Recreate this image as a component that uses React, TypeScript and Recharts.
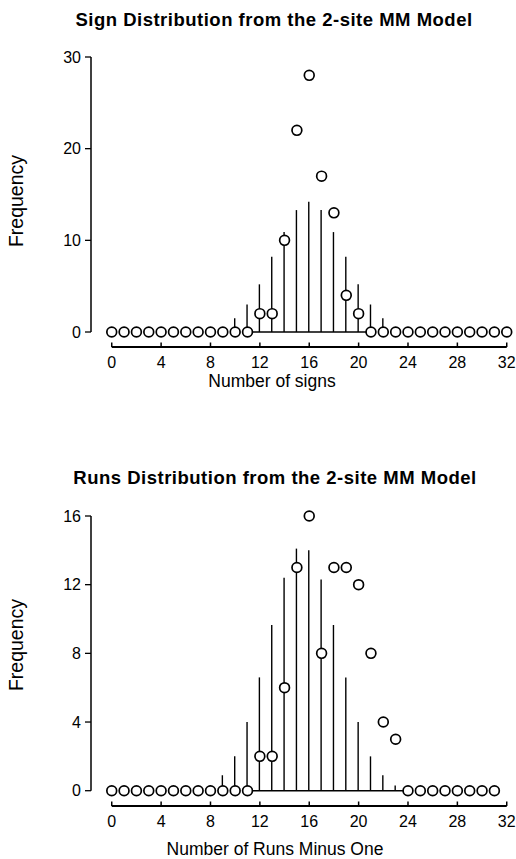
import { ComposedChart, Bar, Line, XAxis, YAxis, ReferenceLine } from 'recharts';

const FONT = '"Liberation Sans", Arial, Helvetica, sans-serif';

// top panel: number of signs
const signBins = [0, 1, 2, 3, 4, 5, 6, 7, 8, 9, 10, 11, 12, 13, 14, 15, 16, 17, 18, 19, 20, 21, 22, 23, 24, 25, 26, 27, 28, 29, 30, 31, 32];
const signCounts = [0, 0, 0, 0, 0, 0, 0, 0, 0, 0, 0, 0, 2, 2, 10, 22, 28, 17, 13, 4, 2, 0, 0, 0, 0, 0, 0, 0, 0, 0, 0, 0, 0];
const signRangeBins = [10, 11, 12, 13, 14, 15, 16, 17, 18, 19, 20, 21, 22];
const signRangeTops = [1.5, 3, 5.2, 8.2, 10.9, 13.3, 14.2, 13.3, 10.9, 8.2, 5.2, 3, 1.5];
const signBaseline = [11, 21];
const signYTicks = [0, 10, 20, 30];

// bottom panel: number of runs minus one
const runsBins = [0, 1, 2, 3, 4, 5, 6, 7, 8, 9, 10, 11, 12, 13, 14, 15, 16, 17, 18, 19, 20, 21, 22, 23, 24, 25, 26, 27, 28, 29, 30, 31];
const runsCounts = [0, 0, 0, 0, 0, 0, 0, 0, 0, 0, 0, 0, 2, 2, 6, 13, 16, 8, 13, 13, 12, 8, 4, 3, 0, 0, 0, 0, 0, 0, 0, 0];
const runsRangeBins = [8, 9, 10, 11, 12, 13, 14, 15, 16, 17, 18, 19, 20, 21, 22, 23];
const runsRangeTops = [0.3, 0.9, 2, 4, 6.6, 9.65, 12.4, 14.1, 14, 12.3, 9.65, 6.6, 4, 2, 0.9, 0.3];
const runsBaseline = [11, 24];
const runsYTicks = [0, 4, 8, 12, 16];

const xTicks = [0, 4, 8, 12, 16, 20, 24, 28, 32];

const X_MIN = -1.68;
const X_MAX = 32.6;
const PX_PER_X = 12.344;

function buildRows(bins: number[], counts: number[], rangeBins: number[], rangeTops: number[], baseline: number[]) {
  return bins.map((x, i) => {
    const r = rangeBins.indexOf(x);
    return {
      x,
      freq: counts[i],
      range: r >= 0 ? rangeTops[r] : null,
      base: x >= baseline[0] && x <= baseline[1] ? 0 : null,
    };
  });
}

const signRows = buildRows(signBins, signCounts, signRangeBins, signRangeTops, signBaseline);
const runsRows = buildRows(runsBins, runsCounts, runsRangeBins, runsRangeTops, runsBaseline);

const TICK_GAP = 9.5;

function XTick(props: any) {
  const { x, y, payload } = props;
  return (
    <g>
      <line x1={x} x2={x} y1={y - TICK_GAP} y2={y - TICK_GAP - 4.5} stroke="#000" strokeWidth={1.5} />
      <text x={x} y={y} dy="0.71em" textAnchor="middle" fontSize={16} fontFamily={FONT} fill="#000">
        {payload.value}
      </text>
    </g>
  );
}

function Panel({ rows, yMin, yMax, yTicks, top, height, marginTop, marginBottom }: any) {
  const plotW = (X_MAX - X_MIN) * PX_PER_X;
  const right = 516 - 91 - plotW;
  return (
    <div style={{ position: 'absolute', left: 0, top, width: 516, height }}>
      <ComposedChart
        width={516}
        height={height}
        data={rows}
        margin={{ top: marginTop, right, bottom: marginBottom, left: 0 }}
      >
        <XAxis
          type="number"
          dataKey="x"
          domain={[X_MIN, X_MAX]}
          ticks={xTicks}
          interval={0}
          axisLine={false}
          tickLine={false}
          tickSize={0}
          tickMargin={TICK_GAP}
          tick={<XTick />}
          height={30}
        />
        <YAxis
          type="number"
          domain={[yMin, yMax]}
          ticks={yTicks}
          interval={0}
          axisLine={false}
          tickSize={6}
          tickMargin={4}
          tickLine={{ stroke: '#000', strokeWidth: 1.3 }}
          tick={{ fontSize: 16, fill: '#000', fontFamily: FONT }}
          width={91}
        />
        <ReferenceLine
          segment={[{ x: 0, y: yMin }, { x: 32, y: yMin }]}
          stroke="#000"
          strokeWidth={2}
          ifOverflow="visible"
        />
        <ReferenceLine
          segment={[{ x: X_MIN, y: 0 }, { x: X_MIN, y: yMax }]}
          stroke="#000"
          strokeWidth={1.5}
          ifOverflow="visible"
        />
        <Bar dataKey="range" barSize={1.4} fill="#000" isAnimationActive={false} />
        <Line
          dataKey="base"
          stroke="#000"
          strokeWidth={1.4}
          dot={false}
          connectNulls={false}
          isAnimationActive={false}
        />
        <Line
          dataKey="freq"
          stroke="none"
          dot={{ r: 4.9, fill: '#fff', stroke: '#000', strokeWidth: 1.7 }}
          isAnimationActive={false}
        />
      </ComposedChart>
    </div>
  );
}

const titleStyle: any = {
  position: 'absolute',
  transform: 'translate(-50%, -50%)',
  whiteSpace: 'nowrap',
  fontFamily: FONT,
  fontWeight: 'bold',
  fontSize: 18.5,
  letterSpacing: 0.5,
  lineHeight: 1,
};

const labelStyle: any = {
  position: 'absolute',
  whiteSpace: 'nowrap',
  fontFamily: FONT,
  fontSize: 17.5,
  lineHeight: 1,
};

export default function App() {
  return (
    <div style={{ position: 'absolute', left: 0, top: 0, width: 516, height: 859, background: '#fff', overflow: 'hidden' }}>
      <div style={{ ...titleStyle, left: 274, top: 20 }}>Sign Distribution from the 2-site MM Model</div>
      <Panel rows={signRows} yMin={-1.636} yMax={30} yTicks={signYTicks} top={0} height={430} marginTop={57} marginBottom={53} />
      <div style={{ ...labelStyle, left: 16.5, top: 201, fontSize: 19.5, transform: 'translate(-50%, -50%) rotate(-90deg)' }}>Frequency</div>
      <div style={{ ...labelStyle, left: 272, top: 382, transform: 'translate(-50%, -50%)' }}>Number of signs</div>

      <div style={{ ...titleStyle, left: 275, top: 478 }}>Runs Distribution from the 2-site MM Model</div>
      <Panel rows={runsRows} yMin={-0.891} yMax={16} yTicks={runsYTicks} top={430} height={429} marginTop={86} marginBottom={23} />
      <div style={{ ...labelStyle, left: 16.5, top: 645, fontSize: 19.5, transform: 'translate(-50%, -50%) rotate(-90deg)' }}>Frequency</div>
      <div style={{ ...labelStyle, left: 275, top: 850, transform: 'translate(-50%, -50%)' }}>Number of Runs Minus One</div>
    </div>
  );
}
